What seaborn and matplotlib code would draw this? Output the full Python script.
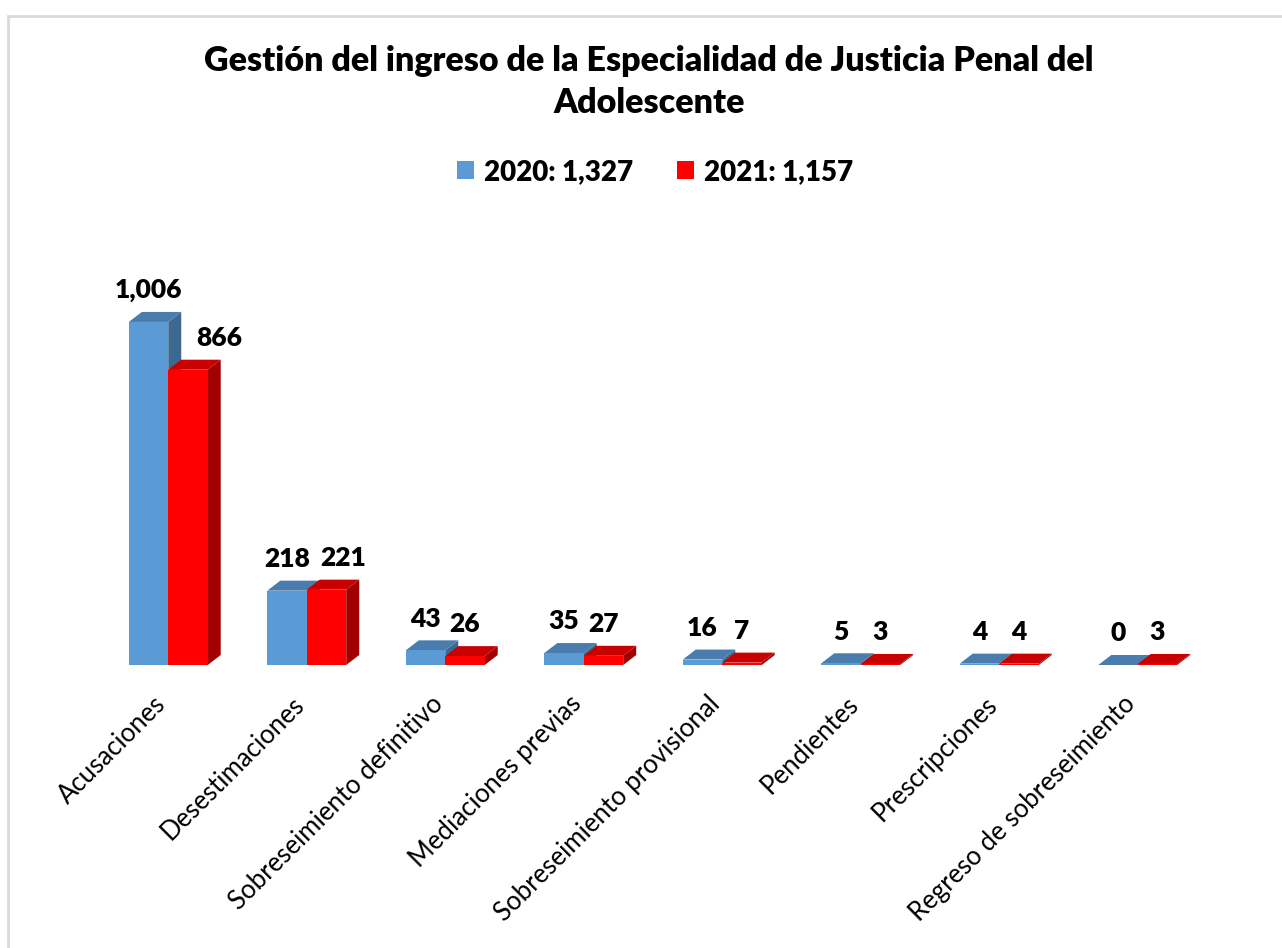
import matplotlib
matplotlib.use("Agg")
import matplotlib.pyplot as plt
import matplotlib.transforms as mtransforms
import seaborn as sns
import pandas as pd
from matplotlib.patches import Polygon, Patch, Rectangle

categories = ["Acusaciones", "Desestimaciones", "Sobreseimiento definitivo",
              "Mediaciones previas", "Sobreseimiento provisional", "Pendientes",
              "Prescripciones", "Regreso de sobreseimiento"]
v2020 = [1006, 218, 43, 35, 16, 5, 4, 0]
v2021 = [866, 221, 26, 27, 7, 3, 4, 3]
series = ["2020", "2021"]
legend_labels = ["2020: 1,327", "2021: 1,157"]
title = "Gestión del ingreso de la Especialidad de Justicia Penal del\nAdolescente"

front = {"2020": "#5B9BD5", "2021": "#FF0000"}
topc = {"2020": "#4A7DAE", "2021": "#C80000"}
sidec = {"2020": "#3D6892", "2021": "#A20000"}

sns.set_theme(style="white")
plt.rcParams["font.family"] = ["Lato", "DejaVu Sans"]
plt.rcParams["text.color"] = "black"
plt.rcParams["xtick.color"] = "black"

df = pd.DataFrame({
    "cat": categories * 2,
    "value": v2020 + v2021,
    "year": ["2020"] * len(categories) + ["2021"] * len(categories),
})

W, H = 1282, 948
fig = plt.figure(figsize=(W / 100, H / 100), dpi=100)
ax_left, ax_right = 99, 1207
base_y, top_y = 665, 256
ax = fig.add_axes([ax_left / W, 1 - base_y / H, (ax_right - ax_left) / W, (base_y - top_y) / H])
ymax = (base_y - top_y) / 0.341

sns.barplot(data=df, x="cat", y="value", hue="year", hue_order=series,
            palette=[front[s] for s in series], width=0.57, gap=0,
            saturation=1, ax=ax, legend=False, linewidth=0, edgecolor="none")
ax.set_xlim(-0.5, len(categories) - 0.5)
ax.set_ylim(0, ymax)

# 3D effect offsets (pixels -> data)
px_per_x = (ax_right - ax_left) / len(categories)
px_per_y = (base_y - top_y) / ymax
dxd = 13 / px_per_x
dyd = 10 / px_per_y

# label nudges (pixels) where labels would collide
label_shift = {(0, "2021"): 31, (1, "2021"): 17}

patches = list(ax.patches)
n = len(categories)
for i, p in enumerate(patches):
    s = series[i // n]
    k = i % n
    x0 = p.get_x(); w = p.get_width(); h = p.get_height()
    x1 = x0 + w
    zb = 2 if s == "2020" else 4
    top = Polygon([(x0, h), (x1, h), (x1 + dxd, h + dyd), (x0 + dxd, h + dyd)],
                  closed=True, facecolor=topc[s], edgecolor="none", zorder=zb)
    side = Polygon([(x1, 0), (x1 + dxd, dyd), (x1 + dxd, h + dyd), (x1, h)],
                   closed=True, facecolor=sidec[s], edgecolor="none", zorder=zb)
    ax.add_patch(side); ax.add_patch(top)
    p.set_zorder(zb + 1)
    val = v2020[k] if s == "2020" else v2021[k]
    shift = label_shift.get((k, s), 0)
    ax.annotate(f"{val:,}", (x0 + w / 2, h + dyd), xytext=(shift * 0.72, 7),
                textcoords="offset points", ha="center", va="bottom",
                fontsize=19, fontweight="heavy", color="black", zorder=10)

sns.despine(ax=ax, left=True, bottom=True)
ax.set_yticks([])
ax.set_xlabel(""); ax.set_ylabel("")
ax.tick_params(axis="x", length=0, pad=16)
ax.set_xticks(range(n))
ax.set_xticklabels(categories, rotation=45, ha="right", va="center",
                   rotation_mode="anchor", fontsize=18.5)
off = mtransforms.ScaledTranslation(-6 / 100, -13 / 100, fig.dpi_scale_trans)
for lab in ax.get_xticklabels():
    lab.set_transform(lab.get_transform() + off)
ax.set_facecolor("none")

fig.text(649 / W, 1 - 82 / H, title, ha="center", va="center", fontsize=24.5,
         fontweight="heavy", linespacing=1.4)

handles = [Patch(facecolor=front[s], edgecolor="none") for s in series]
fig.legend(handles, legend_labels, loc="center", bbox_to_anchor=(655 / W, 1 - 172 / H),
           ncol=2, frameon=False, prop={"weight": "heavy", "size": 20},
           handlelength=0.62, handleheight=0.62, handletextpad=0.35, columnspacing=1.6)

fig.patches.append(Rectangle((8 / W, -0.1), 1.2, 1 - 16 / H + 0.1, transform=fig.transFigure,
                             facecolor="none", edgecolor="#D9D9D9", linewidth=2, zorder=0))

fig.savefig("out.png", dpi=100, facecolor="white")
